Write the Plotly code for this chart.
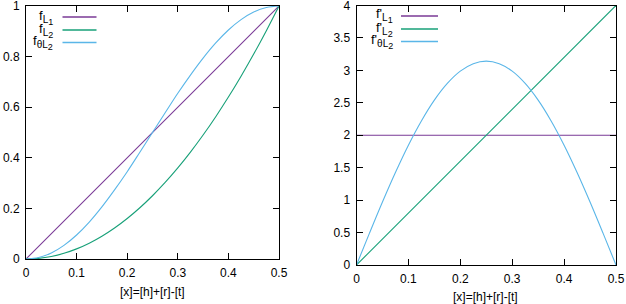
import plotly.graph_objects as go

# ---- data ----
x_fine = [0, 0.025, 0.05, 0.075, 0.1, 0.125, 0.15, 0.175, 0.2, 0.225, 0.25,
          0.275, 0.3, 0.325, 0.35, 0.375, 0.4, 0.425, 0.45, 0.475, 0.5]
x_coarse = [0, 0.05, 0.1, 0.15, 0.2, 0.25, 0.3, 0.35, 0.4, 0.45, 0.5]

f_L1 = [0, 0.1, 0.2, 0.3, 0.4, 0.5, 0.6, 0.7, 0.8, 0.9, 1.0]
f_L2 = [0, 0.0025, 0.01, 0.0225, 0.04, 0.0625, 0.09, 0.1225, 0.16, 0.2025, 0.25,
        0.3025, 0.36, 0.4225, 0.49, 0.5625, 0.64, 0.7225, 0.81, 0.9025, 1.0]
f_thL2 = [0, 0.006, 0.024, 0.054, 0.095, 0.146, 0.206, 0.273, 0.345, 0.422, 0.5,
          0.578, 0.655, 0.727, 0.794, 0.854, 0.905, 0.946, 0.976, 0.994, 1.0]

d_L1 = [2, 2, 2, 2, 2, 2, 2, 2, 2, 2, 2]
d_L2 = [0, 0.4, 0.8, 1.2, 1.6, 2.0, 2.4, 2.8, 3.2, 3.6, 4.0]
d_thL2 = [0, 0.491, 0.971, 1.426, 1.847, 2.221, 2.542, 2.799, 2.988, 3.103, 3.142,
          3.103, 2.988, 2.799, 2.542, 2.221, 1.847, 1.426, 0.971, 0.491, 0]

x_ticks = [0, 0.1, 0.2, 0.3, 0.4, 0.5]
x_ticktext = ["0", "0.1", "0.2", "0.3", "0.4", "0.5"]
y1_ticks = [0, 0.2, 0.4, 0.6, 0.8, 1.0]
y1_ticktext = ["0", "0.2", "0.4", "0.6", "0.8", "1"]
y2_ticks = [0, 0.5, 1, 1.5, 2, 2.5, 3, 3.5, 4]
y2_ticktext = ["0", "0.5", "1", "1.5", "2", "2.5", "3", "3.5", "4"]

SUB = "<sub><span style='font-size:10px'>{0}<sub><span style='font-size:9px'>{1}</span></sub></span></sub>"
left_names = ["f" + SUB.format("L", "1"), "f" + SUB.format("L", "2"), "f" + SUB.format("θL", "2")]
right_names = ["f'" + SUB.format("L", "1"), "f'" + SUB.format("L", "2"), "f'" + SUB.format("θL", "2")]
x_title = "[x]=[h]+[r]-[t]"

PURPLE = "#7a3a96"
GREEN = "#17a078"
BLUE = "#5ab6e8"
colors = [PURPLE, GREEN, BLUE]

W, H = 626, 304
FONT = "Liberation Sans, Arial, sans-serif"


def px(x):
    return x / W


def py(y):
    return 1 - y / H


fig = go.Figure()
lw = 1.1
fig.add_trace(go.Scatter(x=x_coarse, y=f_L1, mode="lines", line=dict(color=PURPLE, width=lw), xaxis="x", yaxis="y"))
fig.add_trace(go.Scatter(x=x_fine, y=f_L2, mode="lines", line=dict(color=GREEN, width=lw, shape="spline"), xaxis="x", yaxis="y"))
fig.add_trace(go.Scatter(x=x_fine, y=f_thL2, mode="lines", line=dict(color=BLUE, width=lw, shape="spline"), xaxis="x", yaxis="y"))

fig.add_trace(go.Scatter(x=x_coarse, y=d_L1, mode="lines", line=dict(color=PURPLE, width=1), xaxis="x2", yaxis="y2"))
fig.add_trace(go.Scatter(x=x_coarse, y=d_L2, mode="lines", line=dict(color=GREEN, width=lw), xaxis="x2", yaxis="y2"))
fig.add_trace(go.Scatter(x=x_fine, y=d_thL2, mode="lines", line=dict(color=BLUE, width=lw, shape="spline"), xaxis="x2", yaxis="y2"))

axis_common = dict(
    showgrid=False, zeroline=False, showline=True, linecolor="black", linewidth=1,
    mirror="allticks", ticks="inside", ticklen=6, tickwidth=1, tickcolor="black",
    tickfont=dict(family=FONT, size=12, color="black"), ticklabelstandoff=3,
    automargin=False, ticklabeloverflow="allow",
)

fig.update_layout(
    template="none",
    width=W, height=H,
    margin=dict(l=0, r=0, t=0, b=0, pad=0),
    paper_bgcolor="white", plot_bgcolor="white",
    showlegend=False,
    xaxis=dict(domain=[px(26), px(279)], range=[0, 0.5], tickvals=x_ticks, ticktext=x_ticktext, anchor="y", **axis_common),
    yaxis=dict(domain=[py(259), py(6)], range=[0, 1], tickvals=y1_ticks, ticktext=y1_ticktext, anchor="x", **axis_common),
    xaxis2=dict(domain=[px(356.5), px(616)], range=[0, 0.5], tickvals=x_ticks, ticktext=x_ticktext, anchor="y2", **axis_common),
    yaxis2=dict(domain=[py(265), py(5.5)], range=[0, 4], tickvals=y2_ticks, ticktext=y2_ticktext, anchor="x2", **axis_common),
)

annotations = []
shapes = []
# x-axis titles
annotations.append(dict(text=x_title, x=px(152.5), y=py(292), xref="paper", yref="paper",
                        xanchor="center", yanchor="middle", showarrow=False,
                        font=dict(family=FONT, size=12, color="black")))
annotations.append(dict(text=x_title, x=px(485.5), y=py(297), xref="paper", yref="paper",
                        xanchor="center", yanchor="middle", showarrow=False,
                        font=dict(family=FONT, size=12, color="black")))

# legends (gnuplot style: text right-aligned, sample line to the right)
left_rows = [17, 30, 42.5]
right_rows = [16, 29, 41.5]
for name, c, yy in zip(left_names, colors, left_rows):
    annotations.append(dict(text=name, x=px(55), y=py(yy), xref="paper", yref="paper",
                            xanchor="right", yanchor="middle", showarrow=False,
                            font=dict(family=FONT, size=13, color="black")))
    shapes.append(dict(type="line", xref="paper", yref="paper", x0=px(62.5), x1=px(96.5),
                       y0=py(yy), y1=py(yy), line=dict(color=c, width=1.6)))
for name, c, yy in zip(right_names, colors, right_rows):
    annotations.append(dict(text=name, x=px(395), y=py(yy), xref="paper", yref="paper",
                            xanchor="right", yanchor="middle", showarrow=False,
                            font=dict(family=FONT, size=13, color="black")))
    shapes.append(dict(type="line", xref="paper", yref="paper", x0=px(401), x1=px(438),
                       y0=py(yy), y1=py(yy), line=dict(color=c, width=1.3)))

fig.update_layout(annotations=annotations, shapes=shapes)
fig.write_html(
    "out.html",
    config={"displayModeBar": False},
    post_script="document.body.style.margin='0';document.body.style.padding='0';document.body.style.overflow='hidden';",
)
